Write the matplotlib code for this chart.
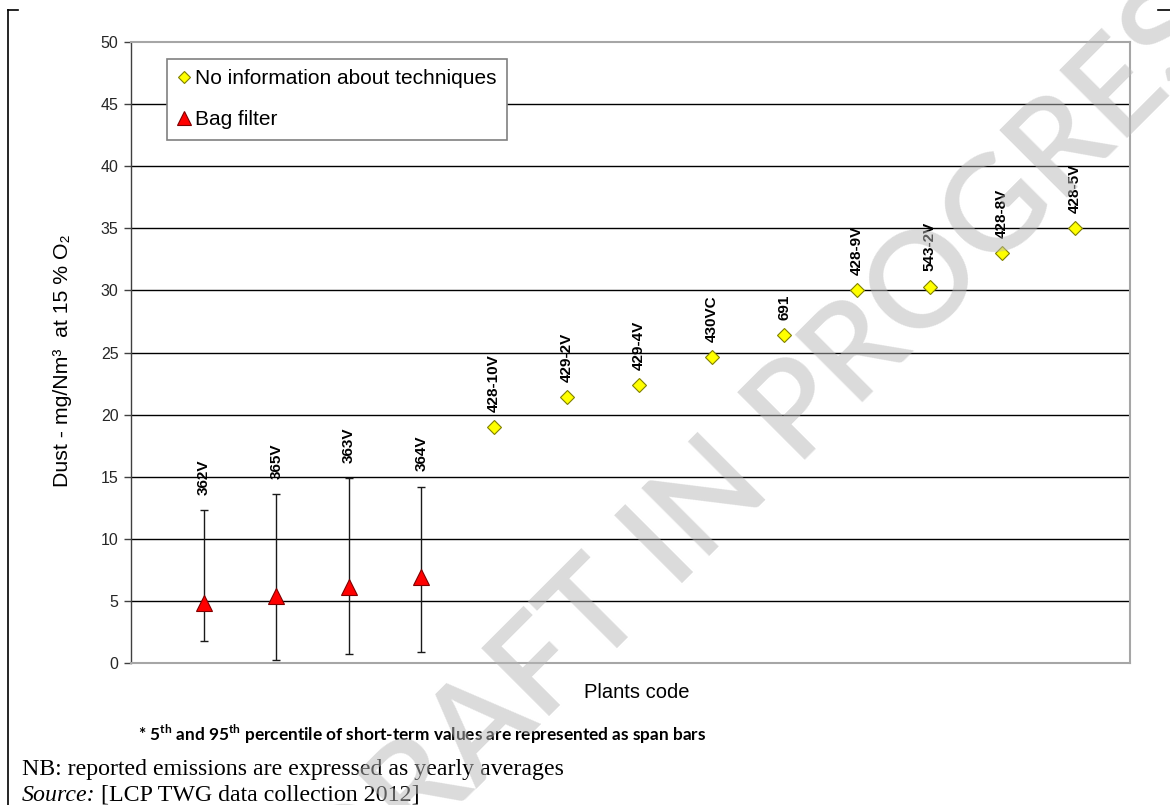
import matplotlib
matplotlib.use("Agg")
import matplotlib.pyplot as plt
from matplotlib.lines import Line2D

# ---- data ----
codes = ["362V", "365V", "363V", "364V", "428-10V", "429-2V", "429-4V",
         "430VC", "691", "428-9V", "543-2V", "428-8V", "428-5V"]
bag_codes = codes[:4]
bag_values = [4.8, 5.4, 6.1, 6.9]
bag_p5 = [1.8, 0.25, 0.7, 0.9]
bag_p95 = [12.3, 13.6, 14.9, 14.2]
noinfo_codes = codes[4:]
noinfo_values = [19.0, 21.4, 22.4, 24.6, 26.4, 30.0, 30.3, 33.0, 35.0]
yticks = [0, 5, 10, 15, 20, 25, 30, 35, 40, 45, 50]

W, H = 1170, 805
plt.rcParams['font.family'] = ['Liberation Sans', 'DejaVu Sans']
plt.rcParams['mathtext.fontset'] = 'custom'
plt.rcParams['mathtext.bf'] = 'Lato:bold'
plt.rcParams['mathtext.rm'] = 'Lato:bold'

fig = plt.figure(figsize=(W / 100, H / 100), dpi=100)
def fx(px): return px / W
def fy(py): return 1 - py / H

ax = fig.add_axes([fx(131), fy(663), fx(1130) - fx(131), fy(42) - fy(663)])

xb = list(range(1, len(bag_codes) + 1))
xn = list(range(len(bag_codes) + 1, len(codes) + 1))

# gridlines
for t in yticks[1:-1]:
    ax.axhline(t, color='black', lw=1.0, zorder=1)

# error bars (5th / 95th percentile)
lo = [v - p for v, p in zip(bag_values, bag_p5)]
hi = [p - v for v, p in zip(bag_values, bag_p95)]
ax.errorbar(xb, bag_values, yerr=[lo, hi], fmt='none', ecolor='#1a1a1a',
            elinewidth=1.0, capsize=3, capthick=1.0, zorder=3)

ax.plot(xn, noinfo_values, linestyle='none', marker='D', ms=7.2,
        mfc='#ffff00', mec='#808000', mew=0.8, zorder=4,
        label='No information about techniques')
ax.plot(xb, bag_values, linestyle='none', marker='^', ms=11.5,
        mfc='#ff0000', mec='#800000', mew=0.8, zorder=4,
        label='Bag filter')

# point labels
for x, v, c in zip(xb, bag_p95, bag_codes):
    ax.annotate(c, (x, v), xytext=(0, 11), textcoords='offset points',
                rotation=90, ha='center', va='bottom', fontsize=11,
                fontweight='bold', zorder=5)
for x, v, c in zip(xn, noinfo_values, noinfo_codes):
    ax.annotate(c, (x, v), xytext=(0, 11), textcoords='offset points',
                rotation=90, ha='center', va='bottom', fontsize=11,
                fontweight='bold', zorder=5)

ax.set_xlim(0, 13.76)
ax.set_ylim(0, 50)
ax.set_yticks(yticks)
ax.set_yticklabels([str(t) for t in yticks], fontsize=11.5, color='#262626')
ax.set_xticks([])
ax.tick_params(axis='y', direction='out', length=5, width=1, color='#404040', pad=4)
for s in ['top', 'right', 'bottom']:
    ax.spines[s].set_color('#a6a6a6')
    ax.spines[s].set_linewidth(1.5)
ax.spines['left'].set_color('#404040')
ax.spines['left'].set_linewidth(1.0)

ax.set_ylabel('Dust - mg/Nm\u00b3  at 15 % O\u2082', fontsize=15.3, va='center')
ax.yaxis.set_label_coords(-(131 - 62) / 999, (663 - 361) / 621)
ax.set_xlabel('Plants code', fontsize=14.5, va='center')
ax.xaxis.set_label_coords((637 - 131) / 999, -(693 - 663) / 621)

leg = ax.legend(loc='upper left', bbox_to_anchor=((167 - 131) / 999, (663 - 59) / 621),
                borderaxespad=0, fancybox=False, frameon=True, edgecolor='#808080',
                fontsize=15, handlelength=0.6, handletextpad=0.25,
                labelspacing=1.05, borderpad=0.5, framealpha=1)
leg.get_frame().set_linewidth(1.2)
leg.legend_handles[0].set_markersize(6.2)
leg.legend_handles[1].set_markersize(9.5)

# footnotes
fig.text(fx(138), fy(734), r'* 5$^{\mathbf{th}}$ and 95$^{\mathbf{th}}$ percentile of short-term values are represented as span bars',
         fontsize=12.4, fontfamily='Lato', fontweight='bold', va='center', ha='left')
fig.text(fx(22), fy(769), 'NB: reported emissions are expressed as yearly averages',
         fontsize=17.2, fontfamily='Liberation Serif', va='center', ha='left')
t1 = fig.text(fx(22), fy(795), 'Source:', fontsize=17.2, fontfamily='Liberation Serif',
              style='italic', va='center', ha='left')
fig.canvas.draw()
bb = t1.get_window_extent()
fig.text(bb.x1 / W + fx(5), fy(795), '[LCP TWG data collection 2012]', fontsize=17.2,
         fontfamily='Liberation Serif', va='center', ha='left')

# page frame lines
fig.add_artist(Line2D([fx(8), fx(8)], [fy(10), fy(805)], color='black', lw=1.2))
fig.add_artist(Line2D([fx(8), fx(18)], [fy(10), fy(10)], color='black', lw=1.2))
fig.add_artist(Line2D([fx(1158), fx(1170)], [fy(10), fy(10)], color='black', lw=1.2))

# watermark
fig.text(fx(785), fy(428), 'DRAFT IN PROGRESS', fontsize=96, color='#b8b8b8',
         fontfamily='Lato', fontweight='semibold', alpha=0.5, rotation=45,
         ha='center', va='center', rotation_mode='anchor', zorder=10)

fig.savefig('out.png', dpi=100)
